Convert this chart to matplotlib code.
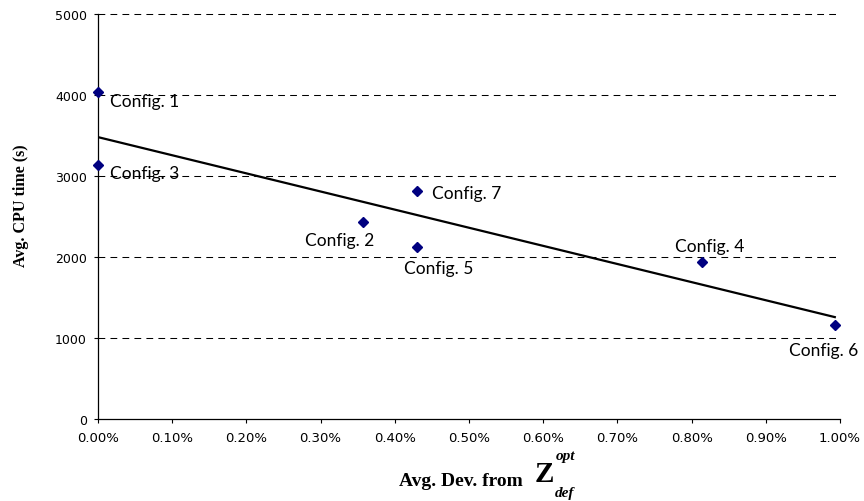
import matplotlib
matplotlib.use("Agg")
import matplotlib.pyplot as plt
from matplotlib.ticker import FuncFormatter

# avg deviation (in %) and avg cpu time (s) per config
configs = ["Config. 1", "Config. 2", "Config. 3", "Config. 4", "Config. 5", "Config. 6", "Config. 7"]
dev_pct = [0.0, 0.357, 0.0, 0.814, 0.43, 0.993, 0.43]
cpu_time = [4035, 2435, 3135, 1940, 2120, 1160, 2810]

# linear trend line as drawn (end points)
trend_x = [0.0, 0.993]
trend_y = [3480, 1258]

x_ticks = [0.0, 0.1, 0.2, 0.3, 0.4, 0.5, 0.6, 0.7, 0.8, 0.9, 1.0]
y_ticks = [0, 1000, 2000, 3000, 4000, 5000]

# label placement, pixels from the marker (dx, dy, ha)
label_pos = {
	"Config. 1": (12, -9, "left"),
	"Config. 2": (-23, -18, "center"),
	"Config. 3": (12, -8, "left"),
	"Config. 4": (8, 16, "center"),
	"Config. 5": (22, -21, "center"),
	"Config. 6": (-11, -25, "center"),
	"Config. 7": (15, -2, "left"),
}

W, H = 864, 502
fig = plt.figure(figsize=(W / 100, H / 100), dpi=100)
ax = fig.add_axes([98 / W, 1 - 420 / H, (840 - 98) / W, (420 - 15) / H])

ax.set_xlim(0, 1.0)
ax.set_ylim(0, 5000)

ax.hlines(y_ticks[1:], 0, 1.0, colors="black", linewidth=0.75,
	linestyles=(0, (6.5, 5)), clip_on=False, zorder=1)

ax.plot(trend_x, trend_y, color="black", linewidth=1.6, zorder=2)
ax.plot(dev_pct, cpu_time, linestyle="none", marker="D", markersize=5.5,
	color="#000080", zorder=3, clip_on=False)

for name, x, y in zip(configs, dev_pct, cpu_time):
	dx, dy, ha = label_pos[name]
	ax.annotate(name, (x, y), xytext=(dx, dy), textcoords="offset pixels",
		ha=ha, va="center", fontsize=12.5, family="Lato", color="black", zorder=4)

for side in ["top", "right"]:
	ax.spines[side].set_visible(False)
for side in ["left", "bottom"]:
	ax.spines[side].set_linewidth(0.9)

ax.set_xticks(x_ticks)
ax.set_yticks(y_ticks)
ax.xaxis.set_major_formatter(FuncFormatter(lambda v, p: "%.2f%%" % v))
ax.tick_params(axis="both", direction="out", length=3, width=0.8, pad=6)
ax.tick_params(axis="x", labelsize=9.5)
ax.tick_params(axis="y", labelsize=9, pad=5)

# axis titles
fig.text(21 / W, 1 - 206 / H, "Avg. CPU time (s)", rotation=90, ha="center", va="center",
	family="Liberation Serif", weight="bold", fontsize=11.5)
fig.text(399 / W, 1 - 486 / H, "Avg. Dev. from", ha="left", va="baseline",
	family="Liberation Serif", weight="bold", fontsize=14)
fig.text(535 / W, 1 - 482 / H, "Z", ha="left", va="baseline",
	family="Liberation Serif", weight="bold", fontsize=21)
fig.text(556 / W, 1 - 460 / H, "opt", ha="left", va="baseline",
	family="Liberation Serif", weight="bold", style="italic", fontsize=11)
fig.text(555 / W, 1 - 497 / H, "def", ha="left", va="baseline",
	family="Liberation Serif", weight="bold", style="italic", fontsize=11)

fig.savefig("out.png", dpi=100)
